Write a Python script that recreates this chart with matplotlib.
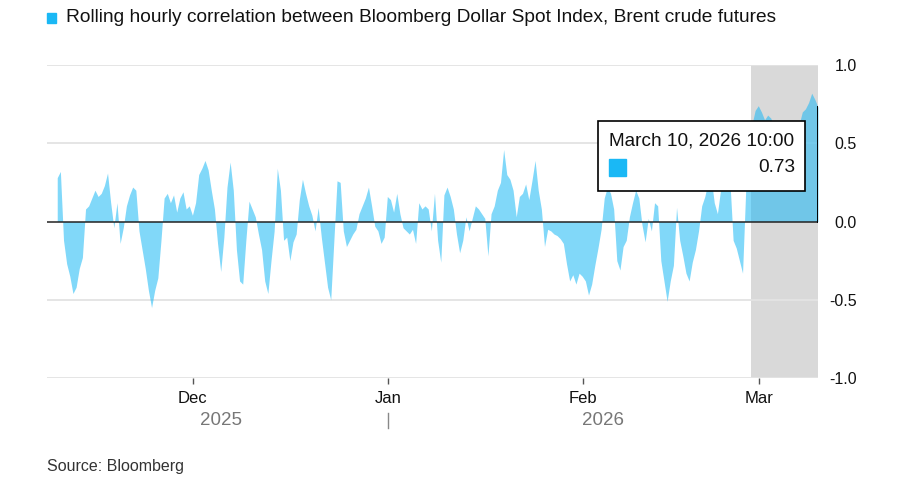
import matplotlib
matplotlib.use("Agg")
import matplotlib.pyplot as plt
import matplotlib.dates as mdates
import matplotlib.transforms as mtransforms
import pandas as pd

# rolling hourly correlation, every 12 hours
corr_values = [
    0.28, 0.32, -0.12, -0.27, -0.35, -0.46, -0.42, -0.30, -0.23, 0.08,
    0.10, 0.15, 0.20, 0.16, 0.18, 0.23, 0.31, 0.12, -0.04, 0.12,
    -0.14, -0.04, 0.10, 0.17, 0.22, 0.20, -0.06, -0.18, -0.30, -0.44,
    -0.55, -0.44, -0.36, -0.12, 0.15, 0.18, 0.12, 0.17, 0.06, 0.15,
    0.19, 0.08, 0.10, 0.04, 0.12, 0.30, 0.34, 0.39, 0.33, 0.20,
    0.08, -0.14, -0.32, -0.10, 0.22, 0.38, 0.20, -0.18, -0.38, -0.40,
    -0.12, 0.13, 0.08, 0.03, -0.08, -0.18, -0.38, -0.46, -0.25, -0.06,
    0.34, 0.20, -0.12, -0.10, -0.25, -0.13, -0.08, 0.14, 0.27, 0.18,
    0.10, 0.04, -0.06, 0.09, -0.10, -0.26, -0.42, -0.50, -0.12, 0.26,
    0.25, -0.06, -0.16, -0.12, -0.08, -0.05, 0.05, 0.10, 0.15, 0.22,
    0.10, -0.03, -0.06, -0.14, -0.10, 0.16, 0.14, 0.06, 0.18, 0.05,
    -0.04, -0.06, -0.08, -0.05, -0.14, 0.12, 0.08, 0.10, 0.08, -0.06,
    0.18, -0.12, -0.26, 0.17, 0.22, 0.16, 0.08, -0.08, -0.20, -0.12,
    0.03, -0.06, 0.02, 0.10, 0.08, 0.05, 0.02, -0.22, 0.05, 0.10,
    0.20, 0.25, 0.46, 0.30, 0.27, 0.20, 0.03, 0.16, 0.18, 0.24,
    0.14, 0.26, 0.39, 0.20, 0.08, -0.16, -0.05, -0.06, -0.08, -0.09,
    -0.11, -0.14, -0.27, -0.38, -0.34, -0.40, -0.33, -0.35, -0.38, -0.47,
    -0.40, -0.28, -0.17, -0.05, 0.15, 0.22, 0.18, 0.08, -0.25, -0.31,
    -0.16, -0.12, 0.03, 0.12, 0.20, 0.15, -0.02, -0.13, 0.02, -0.06,
    0.12, 0.10, -0.25, -0.38, -0.51, -0.38, -0.28, 0.09, -0.12, -0.22,
    -0.33, -0.38, -0.26, -0.18, -0.06, 0.10, 0.16, 0.25, 0.28, 0.12,
    0.05, 0.20, 0.30, 0.34, 0.25, -0.12, -0.17, -0.25, -0.33, 0.20,
    0.40, 0.62, 0.71, 0.74, 0.70, 0.65, 0.68, 0.66, 0.60, 0.55,
    0.52, 0.56, 0.58, 0.55, 0.57, 0.60, 0.62, 0.70, 0.72, 0.76,
    0.82, 0.78, 0.73,
]
last_stamp = "2026-03-10 10:00"
shade_start = "2026-02-27 18:00"
month_ticks = ["2025-12-01", "2026-01-01", "2026-02-01", "2026-03-01"]
month_labels = ["Dec", "Jan", "Feb", "Mar"]
y_ticks = [1.0, 0.5, 0.0, -0.5, -1.0]
y_labels = ["1.0", "0.5", "0.0", "-0.5", "-1.0"]
title = "Rolling hourly correlation between Bloomberg Dollar Spot Index, Brent crude futures"
tip_date = "March 10, 2026 10:00"

times = pd.date_range(end=last_stamp, periods=len(corr_values), freq="12h")
vals = pd.Series(corr_values, index=times)

BLUE = "#1ab8f5"
plt.rcParams["font.family"] = ["Liberation Sans", "DejaVu Sans"]

fig = plt.figure(figsize=(9, 5), dpi=100)
ax = fig.add_axes([47 / 900, 1 - 378 / 500, 771 / 900, 313 / 500])

# grey band for the latest period
ax.axvspan(pd.Timestamp(shade_start), times[-1], color="#d9d9d9", lw=0, zorder=0)

for yv in [1.0, 0.5, -0.5, -1.0]:
    ax.axhline(yv, color="#e3e3e3", lw=1.3, zorder=1)

ax.fill_between(times, 0, vals.values, color=BLUE, alpha=0.55, lw=0, zorder=2)
ax.axhline(0, color="#222222", lw=1.1, zorder=3)
ax.plot([times[-1], times[-1]], [0, corr_values[-1]], color="black", lw=1.4, zorder=4)

# x range: a bit before first point, ends at last point
x_left = pd.Timestamp("2025-12-01") - pd.Timedelta(days=146 / 6.29)
ax.set_xlim(x_left, times[-1])
ax.set_ylim(-1.0, 1.0)

for s in ["top", "left", "right", "bottom"]:
    ax.spines[s].set_visible(False)

ax.set_xticks(pd.to_datetime(month_ticks))
ax.set_xticklabels(month_labels, fontsize=12, color="#111111")
ax.tick_params(axis="x", length=4, width=1, color="#555555", pad=5.5)

ax.yaxis.tick_right()
ax.set_yticks(y_ticks)
ax.set_yticklabels(y_labels, fontsize=11.5, color="#111111", ha="right")
ax.tick_params(axis="y", length=0, pad=28)

# year labels under the months
trans = mtransforms.blended_transform_factory(ax.transData, ax.transAxes)
jan = mdates.date2num(pd.Timestamp("2026-01-01"))
left = mdates.date2num(x_left)
right = mdates.date2num(times[-1])
ax.text((left + jan) / 2 + 0.6, -0.137, "2025", transform=trans, ha="center", va="center",
        fontsize=13.5, color="#777777")
ax.text((jan + right) / 2, -0.137, "2026", transform=trans, ha="center", va="center",
        fontsize=13.5, color="#777777")
ax.plot([jan, jan], [-0.112, -0.160], transform=trans, color="#888888", lw=1, clip_on=False)

# legend-style title
fig.patches.append(plt.Rectangle((47 / 900, 1 - 23 / 500), 9 / 900, 10 / 500,
                                 transform=fig.transFigure, color=BLUE))
fig.text(66 / 900, 1 - 17 / 500, title, fontsize=13.8, color="#111111", va="center")

# tooltip box
tip = plt.Rectangle((598 / 900, 1 - 191 / 500), 207 / 900, 70 / 500, transform=fig.transFigure,
                    facecolor="white", edgecolor="black", lw=1.2, zorder=10)
fig.patches.append(tip)
fig.patches.append(plt.Rectangle((609 / 900, 1 - 176 / 500), 17 / 900, 17 / 500,
                                 transform=fig.transFigure, color=BLUE, zorder=11))
fig.text(609 / 900, 1 - 141 / 500, tip_date, fontsize=13.7, color="#111111",
         va="center", zorder=11)
fig.text(795 / 900, 1 - 167 / 500, f"{corr_values[-1]:.2f}", fontsize=13.7,
         color="#111111", ha="right", va="center", zorder=11)

fig.text(47 / 900, 1 - 466 / 500, "Source: Bloomberg", fontsize=11.5, color="#333333", va="center")

fig.savefig("out.png", dpi=100)
